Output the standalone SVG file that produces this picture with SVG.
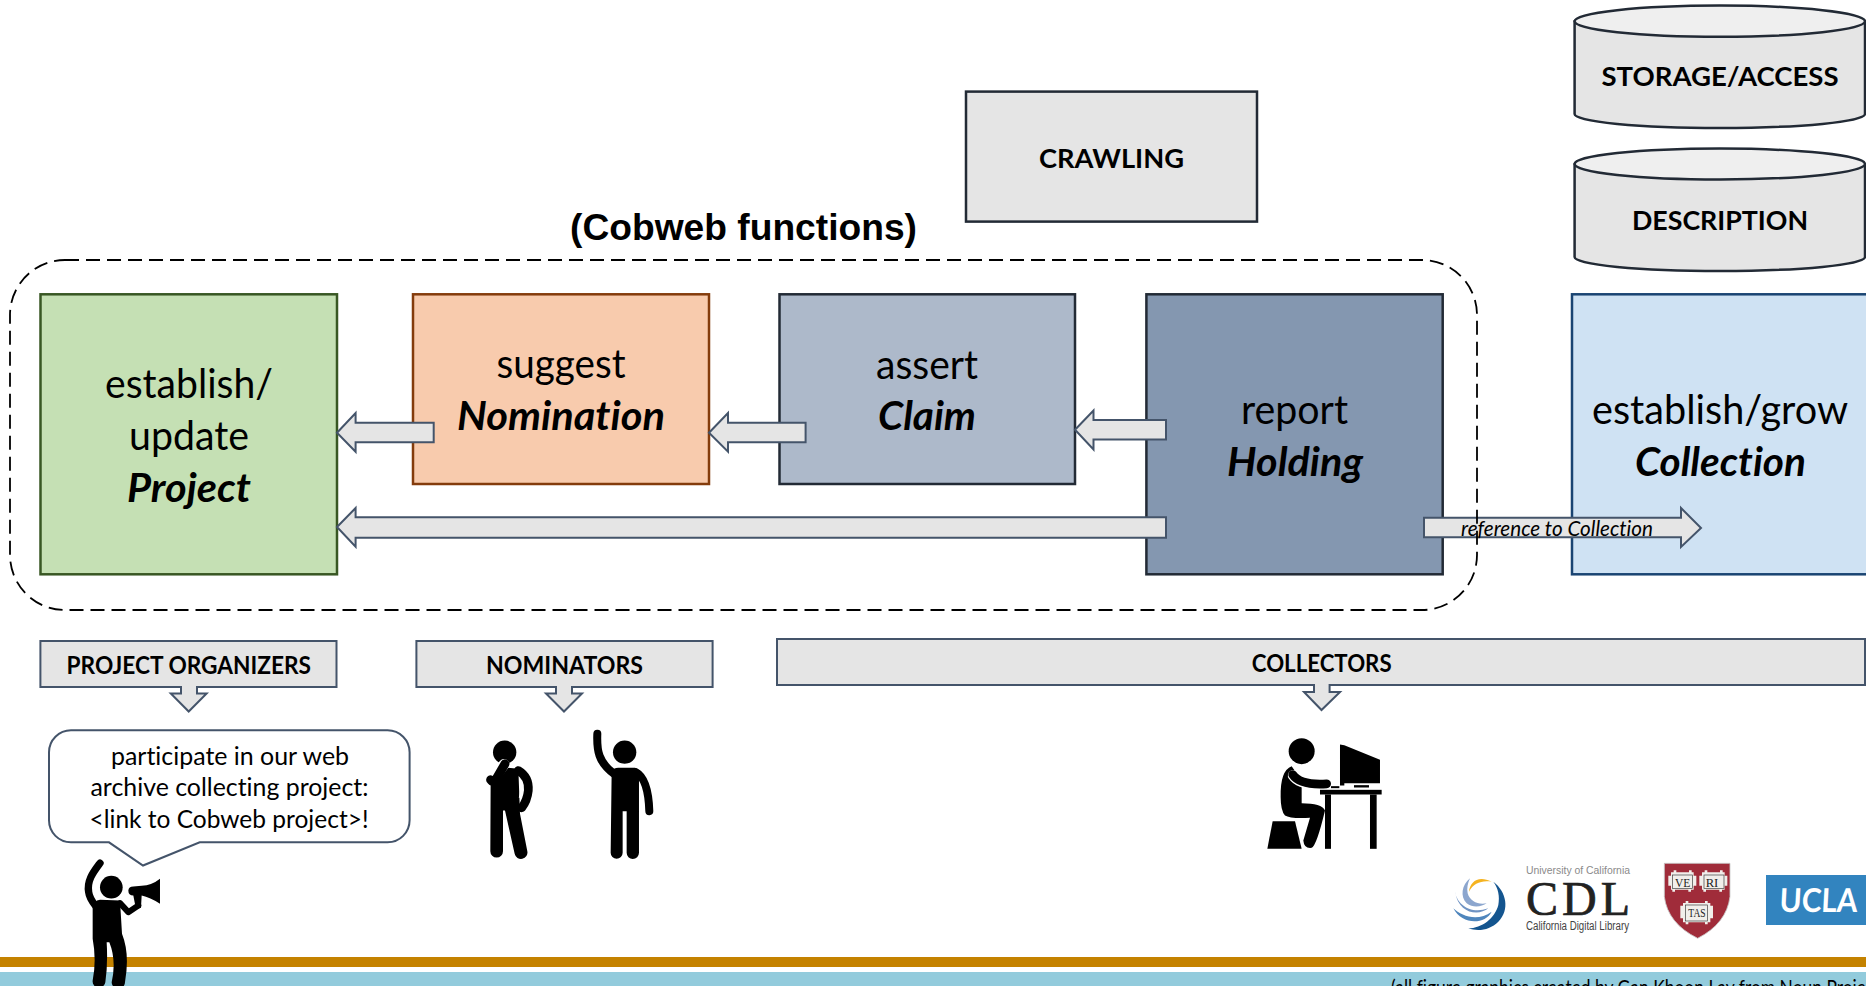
<svg xmlns="http://www.w3.org/2000/svg" width="1866" height="986" viewBox="0 0 1866 986">
<style>
text{font-family:"Lato","Carlito","Liberation Sans",sans-serif;fill:#000;text-anchor:middle;font-variant-ligatures:none}
.big{font-size:40px}
.bi{font-size:41px;font-weight:700;font-style:italic}
.role{font-size:24px;font-weight:700}
.cap{font-size:26px;font-weight:700}
.say{font-size:25.5px}
.box{stroke-width:2.5}
.gray{fill:#E5E5E5;stroke:#44546A;stroke-width:2}
.cyl{fill:#E5E5E5;stroke:#222A35;stroke-width:2.5}
.top{fill:#EFEFEF;stroke:#222A35;stroke-width:2.5}
.k{fill:#000}
.s{fill:none;stroke:#000;stroke-linecap:round;stroke-linejoin:round}
.w{fill:none;stroke:#fff;stroke-linecap:round}
.pg{fill:#F1EFEB;stroke:#3A3A3A;stroke-width:2}
.tab{fill:#F1EFEB}
.hv{font-family:"Liberation Serif",serif;font-size:35px;fill:#222}
</style>

<g id="footer-bars">
<rect x="0" y="957" width="1866" height="10" fill="#C48200"/>
<rect x="0" y="972" width="1866" height="14" fill="#92CBDC"/>
<text x="1391" y="995" style="text-anchor:start;font-size:21px" textLength="475" lengthAdjust="spacingAndGlyphs">(all figure graphics created by Gan Khoon Lay from Noun Proje</text>
</g>

<g id="storage">
<path class="cyl" d="M1574.6,21.5V114A145.2,14 0 0 0 1865,114V21.5Z"/>
<ellipse class="top" cx="1719.8" cy="21.2" rx="145.2" ry="15.6"/>
<text class="cap" x="1720" y="86" textLength="237" lengthAdjust="spacingAndGlyphs">STORAGE/ACCESS</text>
</g>
<g id="description">
<path class="cyl" d="M1574.6,164.5V257A145.2,14 0 0 0 1865,257V164.5Z"/>
<ellipse class="top" cx="1719.8" cy="164" rx="145.2" ry="15.4"/>
<text class="cap" x="1720" y="229.5" textLength="176" lengthAdjust="spacingAndGlyphs">DESCRIPTION</text>
</g>
<g id="crawling">
<rect x="966" y="91.6" width="291" height="130" fill="#E5E5E5" stroke="#222A35" stroke-width="2.5"/>
<text class="cap" x="1111.5" y="168" textLength="145" lengthAdjust="spacingAndGlyphs">CRAWLING</text>
</g>
<text id="cobweb-title" x="743.5" y="240" style="font-family:'Liberation Sans',Arial,sans-serif;font-weight:700;font-size:37px" textLength="347" lengthAdjust="spacingAndGlyphs">(Cobweb functions)</text>

<g id="project">
<rect class="box" x="40.5" y="294.3" width="296.5" height="280" fill="#C5E0B4" stroke="#385723"/>
<text class="big" x="189" y="397.7" textLength="168" lengthAdjust="spacingAndGlyphs">establish/</text>
<text class="big" x="189" y="449.5" textLength="120" lengthAdjust="spacingAndGlyphs">update</text>
<text class="bi" x="189" y="502" textLength="124" lengthAdjust="spacingAndGlyphs">Project</text>
</g>
<g id="nomination">
<rect class="box" x="413" y="294.3" width="296" height="189.7" fill="#F8CBAD" stroke="#843C0C"/>
<text class="big" x="561" y="377.7" textLength="129" lengthAdjust="spacingAndGlyphs">suggest</text>
<text class="bi" x="561" y="429.7" textLength="208" lengthAdjust="spacingAndGlyphs">Nomination</text>
</g>
<g id="claim">
<rect class="box" x="779.5" y="294.3" width="295.5" height="189.7" fill="#ADB9CA" stroke="#222A35"/>
<text class="big" x="927" y="379" textLength="102" lengthAdjust="spacingAndGlyphs">assert</text>
<text class="bi" x="927" y="430" textLength="98" lengthAdjust="spacingAndGlyphs">Claim</text>
</g>
<g id="holding">
<rect class="box" x="1146.4" y="294.3" width="296.3" height="280" fill="#8497B0" stroke="#222A35"/>
<text class="big" x="1294.5" y="424" textLength="107" lengthAdjust="spacingAndGlyphs">report</text>
<text class="bi" x="1295" y="475.5" textLength="136" lengthAdjust="spacingAndGlyphs">Holding</text>
</g>
<g id="collection">
<rect class="box" x="1572" y="294.3" width="300" height="280" fill="#CFE2F3" stroke="#1A4472"/>
<text class="big" x="1720" y="424" textLength="256" lengthAdjust="spacingAndGlyphs">establish/grow</text>
<text class="bi" x="1720.5" y="475.5" textLength="171" lengthAdjust="spacingAndGlyphs">Collection</text>
</g>

<g id="connectors">
<polygon class="gray" points="337,432.7 355.6,413 355.6,422.7 433.7,422.7 433.7,442.3 355.6,442.3 355.6,451.7"/>
<polygon class="gray" points="709,432.7 728,413 728,422.7 805.6,422.7 805.6,442.3 728,442.3 728,451.7"/>
<polygon class="gray" points="1075,429.7 1093.5,410.5 1093.5,420 1166,420 1166,439.4 1093.5,439.4 1093.5,449.5"/>
<polygon class="gray" points="337,527 355.6,508 355.6,517.3 1166,517.3 1166,537.7 355.6,537.7 355.6,546.7"/>
<polygon class="gray" points="1424,517.8 1681,517.8 1681,508 1701,528 1681,547 1681,537.3 1424,537.3"/>
</g>

<rect id="cobweb-functions" x="10" y="260" width="1467" height="350" rx="55" ry="55" fill="none" stroke="#000" stroke-width="1.8" stroke-dasharray="14 7"/>
<text id="reference-label" x="1557" y="535.5" style="font-style:italic;font-size:22px" textLength="192" lengthAdjust="spacingAndGlyphs">reference to Collection</text>

<g id="project-organizers">
<path class="gray" d="M40.4,641H336.5V687H197V693.5H206.6L188.7,711.5L170.8,693.5H181V687H40.4Z"/>
<text class="role" x="188.8" y="673.5" textLength="244.4" lengthAdjust="spacingAndGlyphs">PROJECT ORGANIZERS</text>
</g>
<g id="nominators">
<path class="gray" d="M416.4,641H712.6V687H572V693.5H582L564,711.5L546,693.5H556V687H416.4Z"/>
<text class="role" x="564.5" y="673.5" textLength="157" lengthAdjust="spacingAndGlyphs">NOMINATORS</text>
</g>
<g id="collectors">
<path class="gray" d="M777,639H1865V685H1329.6V692H1340L1321.5,710L1304,692H1314V685H777Z"/>
<text class="role" x="1321.7" y="671.5" textLength="139.8" lengthAdjust="spacingAndGlyphs">COLLECTORS</text>
</g>

<g id="speech-bubble">
<path d="M72,730.3H387.6A22,22 0 0 1 409.6,752.3V820.3A22,22 0 0 1 387.6,842.3H199.7L143,865.5L109,842.3H71A22,22 0 0 1 49,820.3V752.3A22,22 0 0 1 71,730.3Z" fill="#fff" stroke="#44546A" stroke-width="2"/>
<text class="say" x="230" y="764.5" textLength="238" lengthAdjust="spacingAndGlyphs">participate in our web</text>
<text class="say" x="229.5" y="796" textLength="278" lengthAdjust="spacingAndGlyphs">archive collecting project:</text>
<text class="say" x="229" y="828.3" textLength="279" lengthAdjust="spacingAndGlyphs">&lt;link to Cobweb project&gt;!</text>
</g>

<g id="organizer-figure" transform="translate(70 850.5) scale(.3333)">
<circle class="k" cx="124" cy="110" r="34"/>
<path class="s" stroke-width="22" d="M90,38C70,65 50,90 56,125C58,142 65,152 78,168"/>
<path class="k" d="M68,170Q70,150 90,148L150,150L156,250Q180,310 165,395A17,17 0 0 1 125,395Q140,330 118,275H110Q114,340 106,395A19,19 0 0 1 68,390Q80,330 68,265Z"/>
<path class="s" stroke-width="18" d="M150,158L175,185L205,165"/>
<path class="k" d="M175,120Q176,108 190,108L215,106Q245,105 270,85L270,160Q240,140 215,135L213,172L198,176L190,135Q175,135 175,120Z"/>
</g>

<g id="nominator-thinking" transform="translate(470 720.5) scale(.3333)">
<circle class="k" cx="104" cy="95" r="35"/>
<path class="k" d="M62,170Q70,140 100,140L145,145L150,280L172,392A19,19 0 0 1 134,400L105,270H99V392A19,19 0 0 1 61,392Z"/>
<path class="s" stroke-width="26" d="M145,150Q178,170 175,210Q172,240 155,262"/>
<path d="M152,185Q155,205 148,232" fill="none" stroke="#fff" stroke-width="3"/>
<path class="w" stroke-width="33" d="M68,176L102,132"/>
<path class="s" stroke-width="27" d="M62,178Q70,190 82,170L105,130"/>
</g>

<g id="nominator-raising" transform="translate(470 720.5) scale(.3333)">
<circle class="k" cx="464" cy="95" r="35"/>
<path class="s" stroke-width="24" d="M382,40C380,90 385,125 432,160"/>
<path class="k" d="M425,155Q430,142 445,142H495Q507,145 507,165V397A18,18 0 0 1 470,397V272H458V397A18,18 0 0 1 422,397Z"/>
<path class="s" stroke-width="24" d="M498,155Q535,175 538,272"/>
</g>

<g id="collector-figure" transform="translate(1250 730.5) scale(.3333)">
<ellipse class="k" cx="155" cy="62" rx="39" ry="39"/>
<path class="k" d="M125,107Q90,120 92,200Q92,240 105,255Q120,265 180,262L160,330Q162,355 185,352Q200,345 225,240Q215,218 155,218V150Z"/>
<path class="w" stroke-width="33" d="M130,135Q150,165 225,160"/>
<path class="s" stroke-width="26" d="M128,132Q150,165 230,160"/>
<path class="k" d="M68,272H135L155,355H52Z"/>
<rect class="k" x="210" y="178" width="185" height="14"/>
<rect class="k" x="225" y="192" width="18" height="163"/>
<rect class="k" x="360" y="192" width="20" height="163"/>
<path class="k" d="M270,42L283,44L390,88V158H283V165H270Z"/>
<rect class="k" x="243" y="167" width="25" height="6"/>
<rect class="k" x="312" y="164" width="45" height="7"/>
</g>

<g id="cdl-logo">
<g transform="translate(1445 860) scale(.3333)">
<path fill="#14558F" d="M145,65C185,95 195,150 160,185C135,210 100,215 70,205C110,205 150,175 160,135C165,110 160,85 145,65Z"/>
<path fill="#F5B320" d="M72,95C75,65 100,45 140,65C110,60 85,70 72,95Z"/>
<path fill="#8CA6CE" d="M75,55C50,75 45,110 65,130C85,145 110,140 125,130C100,135 75,125 68,100C65,85 68,70 75,55Z"/>
<path fill="#6F93C3" d="M30,95C35,130 75,165 130,145C100,170 40,160 30,95Z"/>
<path fill="#4F86BD" d="M25,145C50,170 100,185 140,155C120,195 50,195 25,145Z"/>
</g>
<text x="1578" y="874" style="font-size:11px;fill:#8A8A8A;font-family:'Liberation Sans',sans-serif" textLength="104" lengthAdjust="spacingAndGlyphs">University of California</text>
<text x="1578" y="915" style="font-size:48px;fill:#222;stroke:#222;stroke-width:.7;font-family:'Liberation Serif',serif" textLength="104" lengthAdjust="spacing">CDL</text>
<text x="1577.5" y="930" style="font-size:12px;fill:#444;font-family:'Liberation Sans',sans-serif" textLength="103" lengthAdjust="spacingAndGlyphs">California Digital Library</text>
</g>

<g id="harvard-logo" transform="translate(1655 855) scale(.3333)">
<path d="M28,25H225V125Q215,205 128,250Q38,205 28,125Z" fill="#A02C3A" stroke="#C8C8C8" stroke-width="2.5"/>
<path class="tab" d="M40,62H48V52H56V46H64V52H102V46H110V52H116V62H124V92H116V104H108V110H100V104H60V110H52V104H48V92H40Z"/>
<path class="tab" d="M133,62H141V52H149V46H157V52H195V46H203V52H209V62H217V92H209V104H201V110H193V104H153V110H145V104H141V92H133Z"/>
<path class="tab" d="M76,152H84V144H92V138H100V144H150V138H158V144H166V152H174V190H166V202H158V208H150V202H100V208H92V202H84V190H76Z"/>
<rect class="pg" x="53" y="60" width="60" height="40"/>
<rect class="pg" x="147" y="60" width="60" height="40"/>
<rect class="pg" x="92" y="150" width="66" height="48"/>
<text class="hv" x="83" y="95" textLength="46" lengthAdjust="spacingAndGlyphs">VE</text>
<text class="hv" x="171" y="95" textLength="38" lengthAdjust="spacingAndGlyphs">RI</text>
<text class="hv" x="126" y="186" textLength="52" lengthAdjust="spacingAndGlyphs">TAS</text>
</g>

<g id="ucla-logo">
<rect x="1766" y="875" width="100" height="50" fill="#3284BF"/>
<text transform="translate(1818 911.7) skewX(-3)" style="font-size:33px;font-weight:700;fill:#fff" textLength="78" lengthAdjust="spacingAndGlyphs">UCLA</text>
</g>
</svg>
